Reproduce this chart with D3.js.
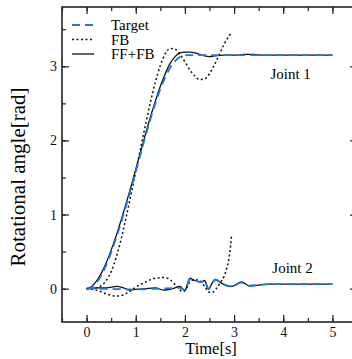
<!DOCTYPE html>
<html>
<head>
<meta charset="utf-8">
<script src="https://cdn.jsdelivr.net/npm/d3@7"></script>
<style>
  body { margin: 0; background: #fff; }
  svg { display: block; font-family: "Liberation Serif", "DejaVu Serif", serif; }
</style>
</head>
<body>
<div id="chart"></div>
<script>
// series data (time [s], angle [rad])
const tTarget1 = [0, 0.1, 0.2, 0.3, 0.4, 0.5, 0.6, 0.7, 0.8, 0.9, 1.0, 1.1, 1.2, 1.3, 1.4, 1.5, 1.6, 1.7, 1.8, 1.9, 2.0, 5.0];
const target1 = [0, 0.02, 0.08, 0.18, 0.32, 0.49, 0.68, 0.89, 1.11, 1.34, 1.58, 1.82, 2.06, 2.29, 2.50, 2.69, 2.85, 2.98, 3.07, 3.13, 3.15, 3.15];

const tFFFB1 = [0, 0.1, 0.2, 0.3, 0.4, 0.5, 0.6, 0.7, 0.8, 0.9, 1.0, 1.1, 1.2, 1.3, 1.4, 1.5, 1.6, 1.7, 1.8, 1.9, 2.0, 2.1, 2.2, 2.3, 2.4, 2.5, 2.6, 2.8, 3.0, 3.2, 3.4, 3.6, 5.0];
const fffb1 = [0, 0.03, 0.10, 0.21, 0.35, 0.52, 0.71, 0.92, 1.14, 1.37, 1.61, 1.85, 2.09, 2.32, 2.53, 2.73, 2.90, 3.04, 3.13, 3.18, 3.19, 3.19, 3.18, 3.16, 3.14, 3.13, 3.14, 3.15, 3.15, 3.16, 3.16, 3.15, 3.15];

const tFB1 = [0, 0.1, 0.2, 0.3, 0.4, 0.5, 0.6, 0.7, 0.8, 0.9, 1.0, 1.1, 1.2, 1.3, 1.4, 1.5, 1.6, 1.7, 1.8, 1.9, 2.0, 2.1, 2.2, 2.3, 2.4, 2.5, 2.6, 2.7, 2.8, 2.9, 2.95];
const fb1 = [0, 0, 0.01, 0.04, 0.11, 0.23, 0.42, 0.66, 0.95, 1.26, 1.58, 1.90, 2.22, 2.52, 2.79, 3.01, 3.17, 3.24, 3.23, 3.16, 3.06, 2.95, 2.87, 2.82, 2.83, 2.90, 3.02, 3.16, 3.30, 3.41, 3.46];

const tTarget2 = [0, 0.5, 1.0, 1.5, 1.9, 2.0, 2.05, 2.1, 2.2, 2.3, 2.4, 2.48, 2.55, 2.62, 2.75, 2.9, 3.0, 3.15, 3.3, 3.5, 3.7, 5.0];
const target2 = [0, -0.005, -0.01, 0, 0.01, -0.02, 0.05, 0.13, 0.12, 0.09, 0.10, 0.0, 0.06, 0.12, 0.07, 0.03, 0.04, 0.08, 0.04, 0.05, 0.06, 0.06];

const tFFFB2 = [0, 0.2, 0.4, 0.62, 0.75, 0.88, 1.0, 1.2, 1.4, 1.56, 1.75, 1.9, 2.0, 2.05, 2.1, 2.2, 2.34, 2.4, 2.48, 2.55, 2.61, 2.75, 2.95, 3.15, 3.32, 3.53, 3.7, 5.0];
const fffb2 = [0, 0.01, 0.01, 0.03, 0.01, -0.02, -0.01, 0, 0.01, -0.02, 0, 0.03, -0.03, 0.06, 0.14, 0.11, 0.09, 0.11, -0.01, 0.07, 0.125, 0.07, 0.03, 0.09, 0.035, 0.05, 0.06, 0.06];

const tFB2 = [0, 0.2, 0.4, 0.6, 0.7, 0.85, 1.0, 1.2, 1.4, 1.56, 1.7, 1.85, 1.95, 2.02, 2.1, 2.2, 2.3, 2.4, 2.5, 2.56, 2.65, 2.72, 2.8, 2.86, 2.9, 2.93, 2.95];
const fb2 = [0, -0.02, -0.07, -0.10, -0.095, -0.05, 0.02, 0.09, 0.14, 0.15, 0.12, 0.02, -0.04, -0.01, 0.09, 0.12, 0.11, 0.03, -0.05, -0.05, 0.01, 0.08, 0.17, 0.30, 0.42, 0.58, 0.73];

const legendLabels = ["Target", "FB", "FF+FB"];
const xTicks = [0, 1, 2, 3, 4, 5];
const yTicks = [0, 1, 2, 3];

const width = 352, height = 359;
const margin = { top: 7, right: -5, bottom: 37, left: 62 };
const w = width - margin.left - margin.right;
const h = height - margin.top - margin.bottom;
const blue = "#1a78e6";
const axisColor = "#222";

const svg = d3.select("#chart").append("svg")
  .attr("width", width)
  .attr("height", height);
const g = svg.append("g")
  .attr("transform", "translate(" + margin.left + "," + margin.top + ")");

const x = d3.scaleLinear().domain([-0.5, 5.5]).range([0, w]);
const y = d3.scaleLinear().domain([-0.45, 3.8]).range([h, 0]);

const minorX = d3.range(-0.5, 5.51, 0.5);
const minorY = d3.range(-0.5, 3.81, 0.5).filter(v => v >= -0.45);

// ticks pointing inward on every side
function addAxis(axisFn, scale, transform, values, size, labels) {
  const a = g.append("g")
    .attr("transform", transform)
    .call(axisFn(scale).tickValues(values).tickSizeInner(-size).tickSizeOuter(0)
      .tickFormat(labels ? d3.format("d") : ""));
  a.select(".domain").remove();
  a.selectAll("line").attr("stroke", axisColor).attr("stroke-width", 1.2);
  a.selectAll("text").attr("font-family", "Liberation Serif").attr("font-size", 14).attr("fill", "#111");
  return a;
}

addAxis(d3.axisBottom, x, "translate(0," + h + ")", xTicks, 7, true)
  .selectAll("text").attr("y", 5).attr("dy", "0.71em");
addAxis(d3.axisBottom, x, "translate(0," + h + ")", minorX, 4, false);
addAxis(d3.axisTop, x, "translate(0,0)", xTicks, 7, false);
addAxis(d3.axisTop, x, "translate(0,0)", minorX, 4, false);
addAxis(d3.axisLeft, y, "translate(0,0)", yTicks, 7, true)
  .selectAll("text").attr("x", -5);
addAxis(d3.axisLeft, y, "translate(0,0)", minorY, 4, false);
addAxis(d3.axisRight, y, "translate(" + w + ",0)", yTicks, 7, false);
addAxis(d3.axisRight, y, "translate(" + w + ",0)", minorY, 4, false);

// frame
g.append("rect")
  .attr("width", w).attr("height", h)
  .attr("fill", "none").attr("stroke", axisColor).attr("stroke-width", 1.6);

function series(ts, vs) { return ts.map((t, i) => [t, vs[i]]); }
const line = d3.line().x(d => x(d[0])).y(d => y(d[1])).curve(d3.curveMonotoneX);

const styles = {
  FB: { stroke: "#111", width: 1.5, dash: "2,2.5" },
  FFFB: { stroke: "#111", width: 1.3, dash: null },
  Target: { stroke: blue, width: 1.8, dash: "8,5" }
};

const curves = [
  [series(tFB1, fb1), styles.FB],
  [series(tFB2, fb2), styles.FB],
  [series(tFFFB1, fffb1), styles.FFFB],
  [series(tFFFB2, fffb2), styles.FFFB],
  [series(tTarget1, target1), styles.Target],
  [series(tTarget2, target2), styles.Target]
];

g.append("g").selectAll("path")
  .data(curves)
  .enter()
  .append("path")
  .attr("d", d => line(d[0]))
  .attr("fill", "none")
  .attr("stroke", d => d[1].stroke)
  .attr("stroke-width", d => d[1].width)
  .attr("stroke-dasharray", d => d[1].dash);

// joint labels
g.append("text").attr("x", x(4.15)).attr("y", y(3.15) + 24)
  .attr("text-anchor", "middle").attr("font-size", 15).text("Joint 1");
g.append("text").attr("x", x(4.19)).attr("y", y(0.06) - 11)
  .attr("text-anchor", "middle").attr("font-size", 15).text("Joint 2");

// legend
const legendStyles = [styles.Target, styles.FB, styles.FFFB];
const leg = g.append("g").attr("transform", "translate(10,18)");
const item = leg.selectAll("g")
  .data(legendLabels)
  .enter()
  .append("g")
  .attr("transform", (d, i) => "translate(0," + (i * 14.5) + ")");
item.append("line")
  .attr("x1", 0).attr("x2", 22)
  .attr("stroke", (d, i) => legendStyles[i].stroke)
  .attr("stroke-width", (d, i) => legendStyles[i].width)
  .attr("stroke-dasharray", (d, i) => legendStyles[i].dash);
item.append("text")
  .attr("x", 39).attr("y", 5)
  .attr("font-size", 15)
  .text(d => d);

// axis titles
svg.append("text")
  .attr("x", 211).attr("y", 354)
  .attr("text-anchor", "middle").attr("font-size", 16.5)
  .text("Time[s]");
svg.append("text")
  .attr("transform", "translate(25,177) rotate(-90)")
  .attr("text-anchor", "middle").attr("font-size", 21)
  .text("Rotational angle[rad]");
</script>
</body>
</html>
